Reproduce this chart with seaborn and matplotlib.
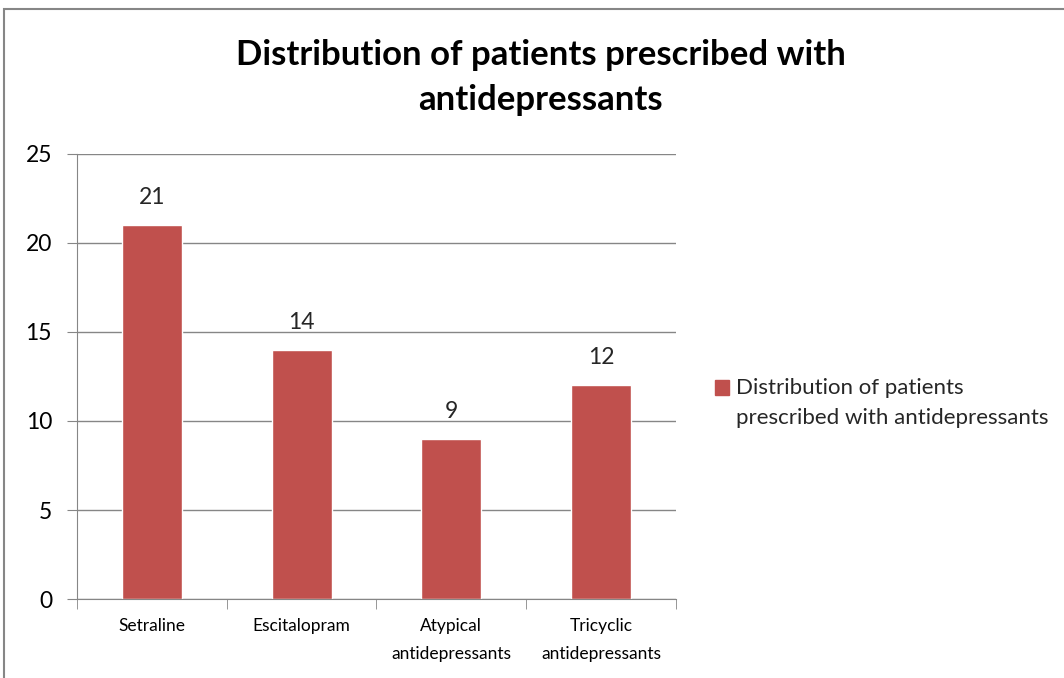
import matplotlib
matplotlib.use("Agg")
import matplotlib.pyplot as plt
import seaborn as sns
from matplotlib.patches import Patch, Rectangle
from matplotlib.legend_handler import HandlerPatch

# Data
drugs = ["Setraline", "Escitalopram", "Atypical\nantidepressants", "Tricyclic\nantidepressants"]
patients = [21, 14, 9, 12]
series_name = "Distribution of patients\nprescribed with antidepressants"
bar_color = "#C0504D"
grey = "#868686"

sns.set_style("white")
plt.rcParams['font.family'] = ['Lato', 'DejaVu Sans']

fig = plt.figure(figsize=(10.64, 6.78), dpi=100)
ax = fig.add_axes([0.0724, 0.1165, 0.5629, 0.6564])

sns.barplot(x=drugs, y=patients, color=bar_color, width=0.4, ax=ax, saturation=1)

ax.set_ylim(0, 25)
ax.set_xlim(-0.5, 3.5)
ax.set_yticks([0, 5, 10, 15, 20, 25])
ax.yaxis.grid(True, color=grey, linewidth=1)
ax.set_axisbelow(True)
ax.tick_params(axis='y', length=7, color=grey, labelsize=16.5, pad=11, left=True,
               labelcolor='black')
ax.set_xticks(range(len(drugs)))
ax.set_xticklabels(drugs, linespacing=1.9, va='top')
ax.tick_params(axis='x', which='major', length=0, labelsize=12.5, pad=14,
               labelcolor='black')
ax.set_xticks([-0.5, 0.5, 1.5, 2.5, 3.5], minor=True)
ax.tick_params(axis='x', which='minor', length=7, color=grey, bottom=True)
for side in ['top', 'right']:
    ax.spines[side].set_visible(False)
for side in ['left', 'bottom']:
    ax.spines[side].set_color(grey)
ax.set_xlabel("")
ax.set_ylabel("")

# value labels
for i, v in enumerate(patients):
    ax.annotate(str(v), (i, v), xytext=(0, 20), textcoords='offset points',
                ha='center', va='center', fontsize=16.5)

fig.text(0.508, 0.885, "Distribution of patients prescribed with\nantidepressants",
         ha='center', va='center', fontsize=25, fontweight='bold', linespacing=1.5,
         color='black')


# legend square sits next to the first line of the label, like Excel does
def top_square(legend, orig_handle, xdescent, ydescent, width, height, fontsize):
    return Rectangle((-xdescent, -ydescent + 11), width, height)


leg = fig.legend(handles=[Patch(color=bar_color, label=series_name)],
                 loc='center left', bbox_to_anchor=(0.6635, 0.406), frameon=False,
                 fontsize=16, handlelength=0.65, handleheight=0.65, handletextpad=0.3,
                 borderaxespad=0,
                 handler_map={Patch: HandlerPatch(patch_func=top_square)})
for t in leg.get_texts():
    t.set_linespacing(1.65)

# page frame around the chart
fig.add_artist(Rectangle((4 / 1064, -0.01), 1.1, 1 - 9 / 678 + 0.01,
                         transform=fig.transFigure, fill=False,
                         edgecolor=grey, linewidth=1.5))

fig.savefig("out.png", dpi=100)
